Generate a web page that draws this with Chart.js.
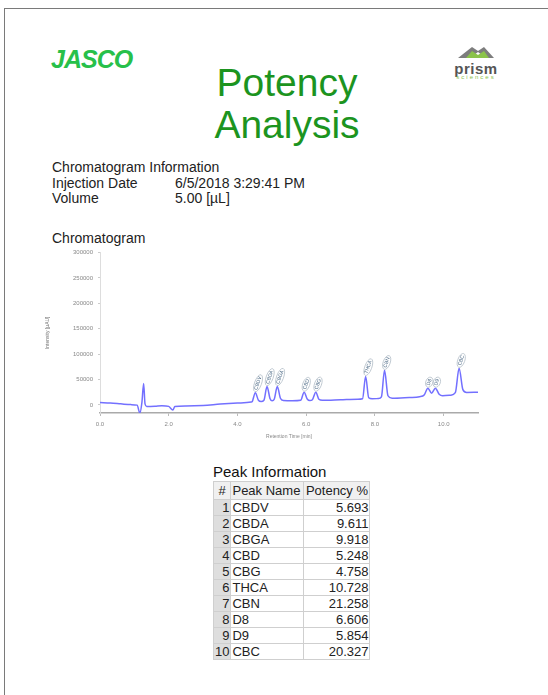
<!DOCTYPE html>
<html>
<head>
<meta charset="utf-8">
<style>
    body { margin: 0; background: #fff; font-family: "Liberation Sans", Arial, sans-serif; }
    #page { position: absolute; left: 4px; top: 8px; width: 560px; height: 700px;
            border-left: 1.5px solid #7a7a7a; border-top: 1.5px solid #7a7a7a; }
    .abs { position: absolute; }
    #jasco { left: 51px; top: 45px; font-size: 25px; font-weight: bold; font-style: italic;
             color: #27c04a; letter-spacing: -1px; }
    #title { left: 187px; top: 62px; width: 200px; text-align: center; font-size: 39px;
             line-height: 42px; color: #1c941f; }
    #prism { left: 440px; top: 45px; width: 72px; text-align: center; }
    #info { left: 52px; top: 160px; font-size: 14px; line-height: 15.5px; color: #222; }
    #info span { display: inline-block; width: 123px; }
    #chromTitle { left: 52px; top: 230px; font-size: 14px; color: #222; }
    #peakTitle { left: 213px; top: 463px; font-size: 15px; color: #111; }
    table { position: absolute; left: 213px; top: 481px; border-collapse: collapse;
            font-size: 13px; color: #222; }
    td, th { border: 1px solid #cfcfcf; padding: 0 1px; height: 15px; line-height: 14px; }
    th { font-weight: normal; height: 17px; background: #f0f0f0; }
    td.n { background: #dedede; text-align: right; width: 14px; }
    td.nm { width: 70px; }
    td.v { width: 63px; text-align: right; }
</style>
</head>
<body>
<div id="page"></div>
<div class="abs" id="jasco">JASCO</div>
<div class="abs" id="title">Potency<br>Analysis</div>
<div class="abs" id="prism">
    <svg width="40" height="14" viewBox="0 0 40 14">
        <polygon points="2,13 16,2 22,6 28,2 38,13 30,13 22,7 14,13" fill="#7d7d7d"/>
        <polygon points="10,13 16,6 22,10 28,6 33,13" fill="#8bc34a"/>
    </svg>
    <div style="font-size:15px;font-weight:bold;color:#555;line-height:11px;letter-spacing:0.5px">prism</div>
    <div style="font-size:6px;color:#8bc34a;line-height:6px;letter-spacing:2px">sciences</div>
</div>
<div class="abs" id="info">
    <div>Chromatogram Information</div>
    <div><span>Injection Date</span>6/5/2018 3:29:41 PM</div>
    <div><span>Volume</span>5.00 [&micro;L]</div>
</div>
<div class="abs" id="chromTitle">Chromatogram</div>
<canvas id="myChart" class="abs" style="left:45px;top:244px" width="440" height="196"></canvas>
<div class="abs" id="peakTitle">Peak Information</div>
<table id="peakTable"></table>

<script src="https://cdn.jsdelivr.net/npm/chart.js@4.4.0/dist/chart.umd.min.js"></script>
<script>
// trace (retention time in min, intensity in uAU)
const traceTimes = [0.0, 0.3, 0.6, 0.9, 1.08, 1.16, 1.22, 1.27, 1.31, 1.36, 1.6, 1.8, 2.0, 2.12, 2.18, 2.5, 3.0, 3.5, 4.0, 4.4,
    4.43, 4.52, 4.61, 4.69, 4.77, 4.86, 4.95, 5.01, 5.07, 5.16, 5.25, 5.34, 5.6,
    5.84, 5.94, 6.03, 6.11, 6.18, 6.28, 6.37, 6.47, 7.0, 7.5,
    7.64, 7.73, 7.82, 7.92, 8.1, 8.19, 8.28, 8.38, 8.5, 9.0, 9.3,
    9.44, 9.54, 9.65, 9.76, 9.87, 9.97, 10.2, 10.34, 10.45, 10.56, 10.67, 11.0];
const traceValues = [4500, 3500, 2000, 500, -500, -16000, 5000, 42000, 2000, -3000, -2500, -1500, -3000, -10000, -3000, -2000, -1000, 1500, 3500, 5500,
    6500, 24000, 9000, 6500, 9000, 36000, 12000, 8000, 11000, 36000, 13000, 8500, 8000,
    9000, 25000, 11500, 8500, 10000, 25000, 11000, 9000, 10000, 11000,
    12000, 56000, 14000, 12000, 12500, 16000, 68000, 18000, 13000, 14500, 16000,
    20000, 33000, 23000, 33000, 21000, 18000, 19000, 24000, 72000, 30000, 24500, 25000];

const peakNames = ['CBDV', 'CBDA', 'CBGA', 'CBD', 'CBG', 'THCA', 'CBN', 'D8', 'D9', 'CBC'];
const peakTimes = [4.52, 4.86, 5.16, 5.94, 6.28, 7.73, 8.28, 9.54, 9.76, 10.45];
const peakHeights = [24000, 36000, 36000, 25000, 25000, 56000, 68000, 33000, 33000, 72000];
const potency = ['5.693', '9.611', '9.918', '5.248', '4.758', '10.728', '21.258', '6.606', '5.854', '20.327'];

const xTicks = [0, 2, 4, 6, 8, 10];
const yTicks = [0, 50000, 100000, 150000, 200000, 250000, 300000];

// fill the peak table
const table = document.getElementById('peakTable');
let html = '<tr><th>#</th><th style="text-align:left">Peak Name</th><th>Potency %</th></tr>';
peakNames.forEach((name, i) => {
    html += '<tr><td class="n">' + (i + 1) + '</td><td class="nm">' + name + '</td><td class="v">' + potency[i] + '</td></tr>';
});
table.innerHTML = html;

// little rotated peak names above each peak
const peakLabels = {
    id: 'peakLabels',
    afterDatasetsDraw(chart) {
        const ctx = chart.ctx;
        const xs = chart.scales.x, ys = chart.scales.y;
        ctx.save();
        ctx.font = '5px "Liberation Sans"';
        peakNames.forEach((name, i) => {
            const px = xs.getPixelForValue(peakTimes[i]);
            const py = ys.getPixelForValue(peakHeights[i]) - 2;
            ctx.save();
            ctx.translate(px, py);
            ctx.rotate(-70 * Math.PI / 180);
            const w = ctx.measureText(name).width;
            ctx.strokeStyle = '#b9c3cc';
            ctx.lineWidth = 0.8;
            ctx.beginPath();
            ctx.ellipse(w / 2 + 1, 0, w / 2 + 2, 3.5, 0, 0, Math.PI * 2);
            ctx.stroke();
            ctx.fillStyle = '#4d6a86';
            ctx.textBaseline = 'middle';
            ctx.fillText(name, 1, 0);
            ctx.restore();
        });
        ctx.restore();
    }
};

const chart = new Chart(document.getElementById('myChart'), {
    type: 'line',
    data: {
        datasets: [{
            data: traceTimes.map((t, i) => ({ x: t, y: traceValues[i] })),
            borderColor: '#7370ff',
            borderWidth: 1.5,
            pointRadius: 0,
            cubicInterpolationMode: 'monotone'
        }]
    },
    options: {
        responsive: false,
        animation: false,
        layout: { padding: { top: 6, right: 7, left: 0, bottom: 0 } },
        plugins: { legend: { display: false }, tooltip: { enabled: false } },
        scales: {
            x: {
                type: 'linear', min: 0, max: 11,
                afterBuildTicks: s => { s.ticks = xTicks.map(v => ({ value: v })); },
                afterFit: s => { s.height = 27; },
                ticks: { color: '#888', font: { size: 6 }, padding: 5,
                         callback: v => v.toFixed(1) },
                grid: { drawOnChartArea: false, tickLength: 3, color: '#bbb' },
                border: { color: '#aaa', width: 1.5 },
                title: { display: true, text: 'Retention Time [min]', color: '#888',
                         font: { size: 5 }, padding: 0 }
            },
            y: {
                min: -16000, max: 300000,
                afterBuildTicks: s => { s.ticks = yTicks.map(v => ({ value: v })); },
                afterFit: s => { s.width = 55; },
                ticks: { color: '#888', font: { size: 6 }, padding: 5,
                         callback: v => String(v) },
                grid: { drawOnChartArea: false, tickLength: 2, color: '#ccc' },
                border: { color: '#ddd', width: 1 },
                title: { display: true, text: 'Intensity [\u00b5AU]', color: '#777',
                         font: { size: 5 }, padding: 0 }
            }
        }
    },
    plugins: [peakLabels]
});
</script>
</body>
</html>
